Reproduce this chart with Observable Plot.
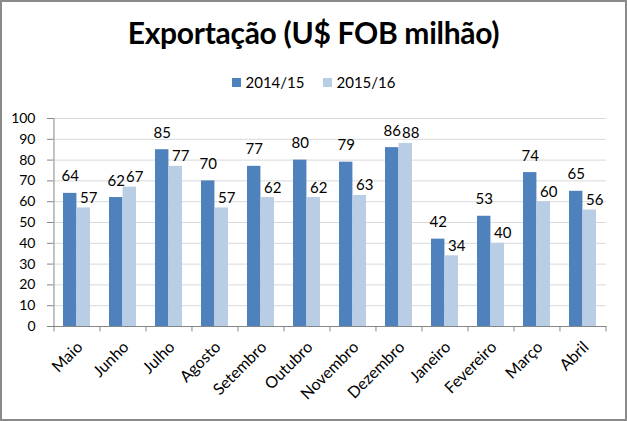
<!DOCTYPE html>
<html>
<head>
<meta charset="utf-8">
<script src="https://cdn.jsdelivr.net/npm/d3@7"></script>
<script src="https://cdn.jsdelivr.net/npm/@observablehq/plot@0.6"></script>
<style>
  html, body { margin: 0; padding: 0; background: #fff; }
  #wrap { position: relative; width: 627px; height: 421px; overflow: hidden; font-family: Lato, "Open Sans", sans-serif; }
  #frame { position: absolute; left: 0; top: 0; width: 627px; height: 421px; box-sizing: border-box; border: 2px solid #8a8a8a; pointer-events: none; }
  #title { position: absolute; left: 0; width: 627px; top: 14px; text-align: center; font-weight: bold; font-size: 30px; color: #000; letter-spacing: -0.3px; }
  #legend { position: absolute; left: 0; width: 627px; top: 73px; display: flex; justify-content: center; align-items: center; font-size: 15px; color: #000; }
  .sw { display: inline-block; width: 9px; height: 9px; margin-right: 5px; }
  .item { display: flex; align-items: center; margin: 0 9px; }
  #chart { position: absolute; left: 0; top: 100px; }
  #chart svg text { fill: #000; }
</style>
</head>
<body>
<div id="wrap">
  <div id="title">Exportação (U$ FOB milhão)</div>
  <div id="legend"></div>
  <div id="chart"></div>
  <div id="frame"></div>
</div>
<script>
const months = ["Maio", "Junho", "Julho", "Agosto", "Setembro", "Outubro", "Novembro", "Dezembro", "Janeiro", "Fevereiro", "Março", "Abril"];
const series = ["2014/15", "2015/16"];
const v1415 = [64, 62, 85, 70, 77, 80, 79, 86, 42, 53, 74, 65];
const v1516 = [57, 67, 77, 57, 62, 62, 63, 88, 34, 40, 60, 56];
const yTicks = [0, 10, 20, 30, 40, 50, 60, 70, 80, 90, 100];
const colors = ["#4f81bd", "#b9cde5"];

const data = months.map((m, i) => ({month: m, a: v1415[i], b: v1516[i]}));

const legend = document.getElementById("legend");
series.forEach((s, i) => {
  const it = document.createElement("span");
  it.className = "item";
  it.innerHTML = `<span class="sw" style="background:${colors[i]}"></span>${s}`;
  legend.appendChild(it);
});

const W = 627, mL = 53, mR = 21;
const step = (W - mL - mR) / months.length;
const pad = 0.41;
const half = step * (1 - pad) / 2;

const chart = Plot.plot({
  width: W,
  height: 318,
  marginLeft: mL,
  marginRight: mR,
  marginTop: 18,
  marginBottom: 92,
  style: {fontFamily: "Lato, sans-serif", fontSize: "14px", color: "#868686", background: "transparent", overflow: "visible"},
  x: {domain: months, paddingInner: pad, paddingOuter: pad / 2, label: null},
  y: {domain: [0, 100], ticks: yTicks, label: null, tickSize: 6, tickPadding: 12},
  marks: [
    Plot.ruleY(yTicks.filter(d => d > 0), {stroke: "#d9d9d9"}),
    Plot.barY(data, {x: "month", y: "a", fill: colors[0], insetRight: half}),
    Plot.barY(data, {x: "month", y: "b", fill: colors[1], insetLeft: half}),
    Plot.ruleY([0], {stroke: "#868686"}),
    Plot.ruleX([0], {x: () => months[0], y1: 0, y2: 100, dx: -step / 2, stroke: "#868686"}),
    Plot.ruleX(months, {x: d => d, y1: 0, y2: -2.6, dx: -step / 2, stroke: "#868686"}),
    Plot.ruleX([months[months.length - 1]], {x: d => d, y1: 0, y2: -2.6, dx: step / 2, stroke: "#868686"}),
    Plot.axisX({label: null, tickSize: 0, tickPadding: 12, tickRotate: -45, fontSize: 16, fill: "#000", dx: 3, dy: 6}),
    Plot.text(data, {x: "month", y: "a", text: "a", dx: -half / 2, dy: -12, lineAnchor: "bottom", fontSize: 15, fill: "#000"}),
    Plot.text(data, {x: "month", y: "b", text: "b", dx: half / 2 + 5, dy: -5, lineAnchor: "bottom", fontSize: 15, fill: "#000"})
  ]
});
document.getElementById("chart").appendChild(chart);
</script>
</body>
</html>
